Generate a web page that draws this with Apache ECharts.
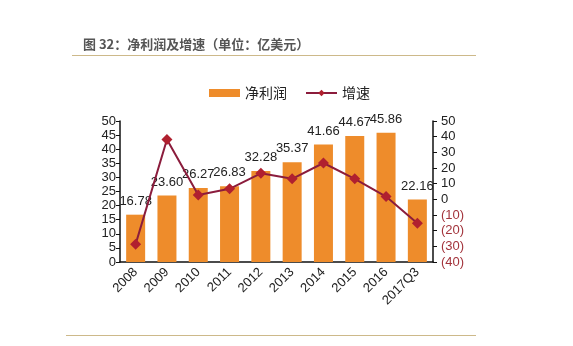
<!DOCTYPE html>
<html>
<head>
<meta charset="utf-8">
<script src="https://cdn.jsdelivr.net/npm/echarts@6/dist/echarts.min.js"></script>
<style>
html,body{margin:0;padding:0;background:#fff;}
#c{width:573px;height:346px;}
</style>
</head>
<body>
<div id="c"></div>
<script>
const categories = ['2008','2009','2010','2011','2012','2013','2014','2015','2016','2017Q3'];
const netProfit = [16.78, 23.60, 26.27, 26.83, 32.28, 35.37, 41.66, 44.67, 45.86, 22.16];
const growth = [-28.6, 38.2, 2.7, 6.7, 16.6, 13.1, 23.2, 13.1, 1.8, -15.3];
const titleText = '图 32：净利润及增速（单位：亿美元）';
const seriesNames = ['净利润', '增速'];

const chart = echarts.init(document.getElementById('c'), null, {renderer: 'canvas'});
const baseFont = 'Liberation Sans, Arial, sans-serif';
const cjkFont = 'Noto Sans CJK SC, sans-serif';

chart.setOption({
  animation: false,
  backgroundColor: '#fff',
  title: {
    text: titleText,
    left: 78, top: 33,
    textStyle: {fontSize: 13, fontWeight: 'bold', color: '#555', fontFamily: cjkFont}
  },
  graphic: [
    {type: 'line', shape: {x1: 72, y1: 55.5, x2: 476, y2: 55.5}, style: {stroke: '#cdb98a', lineWidth: 1}},
    {type: 'line', shape: {x1: 66, y1: 335.5, x2: 476, y2: 335.5}, style: {stroke: '#cdb98a', lineWidth: 1}}
  ],
  legend: {
    left: 204, top: 81,
    itemWidth: 31, itemHeight: 8, itemGap: 18,
    textStyle: {fontSize: 14, color: '#222', fontFamily: cjkFont},
    data: [{name: seriesNames[0], icon: 'rect'}, {name: seriesNames[1]}]
  },
  grid: {left: 120, right: 140, top: 121, bottom: 84},
  xAxis: {
    type: 'category',
    data: categories,
    axisLine: {lineStyle: {color: '#111', width: 1.5}},
    axisTick: {alignWithLabel: false, length: 4, lineStyle: {color: '#111'}},
    axisLabel: {rotate: 45, fontSize: 13, color: '#222', fontFamily: baseFont, margin: 8, interval: 0}
  },
  yAxis: [
    {
      type: 'value', min: 0, max: 50, interval: 5,
      splitLine: {show: false},
      axisLine: {show: true, lineStyle: {color: '#111', width: 1.5}},
      axisTick: {show: true, length: 4, lineStyle: {color: '#111'}},
      axisLabel: {fontSize: 13, color: '#222', fontFamily: baseFont, margin: 4}
    },
    {
      type: 'value', min: -40, max: 50, interval: 10,
      position: 'right',
      splitLine: {show: false},
      axisLine: {show: true, lineStyle: {color: '#111', width: 1.5}},
      axisTick: {show: true, length: 4, lineStyle: {color: '#111'}},
      axisLabel: {
        fontSize: 13, fontFamily: baseFont, margin: 8, color: '#222',
        formatter: function (v) { return v < 0 ? '{n|(' + (-v) + ')}' : '{p|' + v + '}'; },
        rich: {
          n: {color: '#a3343c', fontSize: 13, fontFamily: baseFont},
          p: {color: '#222', fontSize: 13, fontFamily: baseFont}
        }
      }
    }
  ],
  series: [
    {
      name: seriesNames[0], type: 'bar', yAxisIndex: 0,
      data: netProfit,
      barWidth: 19,
      itemStyle: {color: '#EE8C2B'},
      label: {
        show: true, position: 'top', distance: 7,
        fontSize: 13, color: '#222', fontFamily: baseFont,
        formatter: function (p) { return p.value.toFixed(2); }
      },
      z: 2
    },
    {
      name: seriesNames[1], type: 'line', yAxisIndex: 1,
      data: growth,
      symbol: 'diamond', symbolSize: 11,
      lineStyle: {color: '#8B1C3C', width: 2},
      itemStyle: {color: '#B0202F'},
      z: 3
    }
  ]
});
</script>
</body>
</html>
